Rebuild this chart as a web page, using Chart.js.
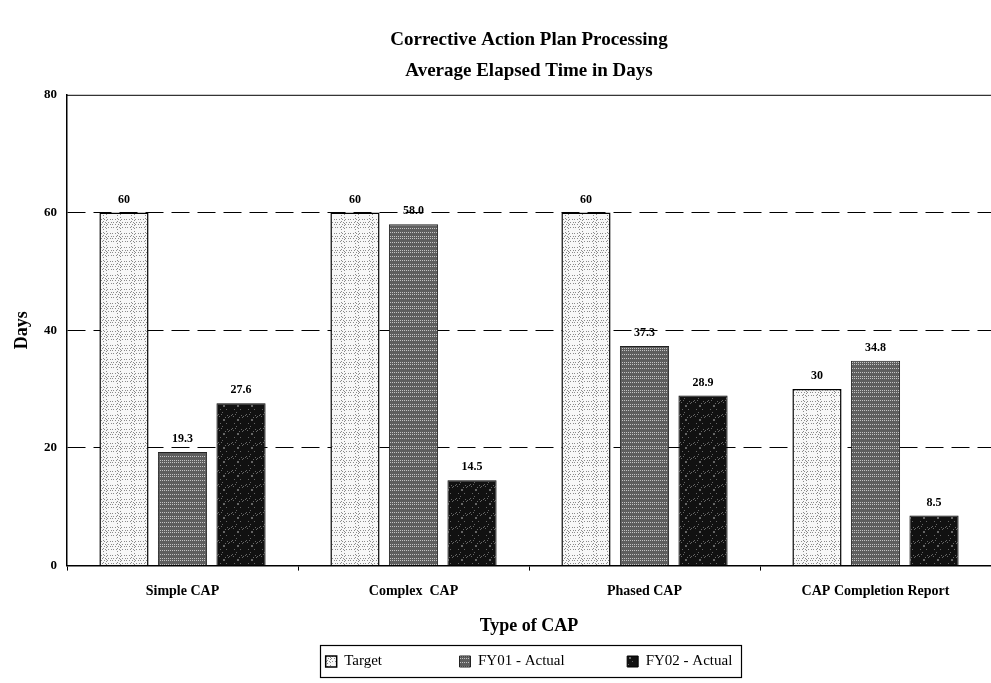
<!DOCTYPE html>
<html lang="en">
  <head>
    <meta charset="UTF-8" />
    <title>Corrective Action Plan Processing</title>
    <script src="https://cdn.jsdelivr.net/npm/chart.js"></script>
    <style>
      html, body {
          margin: 0;
          padding: 0;
          background: #fff;
      }
      .chart-wrapper {
          width: 991px;
          height: 683px;
      }
    </style>
  </head>
  <body>
    <div class="chart-wrapper">
      <canvas id="capChart"></canvas>
    </div>

    <script>
      var categories = ["Simple CAP", "Complex  CAP", "Phased CAP", "CAP Completion Report"];
      var targetDays = [60, 60, 60, 30];
      var fy01Days = [19.3, 58.0, 37.3, 34.8];
      var fy02Days = [27.6, 14.5, 28.9, 8.5];
      var targetText = ["60", "60", "60", "30"];
      var fy01Text = ["19.3", "58.0", "37.3", "34.8"];
      var fy02Text = ["27.6", "14.5", "28.9", "8.5"];
      var yTicks = [0, 20, 40, 60, 80];

      var serif = "'Liberation Serif', 'Times New Roman', serif";

      // little speckled textures, like the scanned print
      function makePattern(base, dot, every) {
        var c = document.createElement("canvas");
        c.width = 14;
        c.height = 14;
        var g = c.getContext("2d");
        g.fillStyle = base;
        g.fillRect(0, 0, 14, 14);
        g.fillStyle = dot;
        for (var i = 0; i < 14; i++) {
          for (var j = 0; j < 14; j++) {
            if ((i * i * 3 + j * 7 + i * j) % every === 0) g.fillRect(i, j, 1, 1);
          }
        }
        return g.createPattern(c, "repeat");
      }

      var targetFill = makePattern("#f7f7f7", "#8a8a8a", 9);
      var fy01Fill = makePattern("#5e5e5e", "#c4c4c4", 4);
      var fy02Fill = makePattern("#111111", "#666666", 13);

      // extra gap after each legend entry (em / en spaces)
      var legendGap = ["\u2003\u2003\u2003\u2003\u2002", "\u2003\u2003\u2003\u2002", ""];

      var valueLabels = {
        id: "valueLabels",
        afterDatasetsDraw: function (chart) {
          var ctx = chart.ctx;
          var texts = [targetText, fy01Text, fy02Text];
          ctx.save();
          ctx.font = "bold 12px " + serif;
          ctx.fillStyle = "#000";
          ctx.textAlign = "center";
          ctx.textBaseline = "bottom";
          chart.data.datasets.forEach(function (ds, di) {
            chart.getDatasetMeta(di).data.forEach(function (bar, i) {
              ctx.fillText(texts[di][i], bar.x, bar.y - 7);
            });
          });
          ctx.restore();
        },
      };

      var frameBits = {
        id: "frameBits",
        afterDraw: function (chart) {
          var ctx = chart.ctx;
          var a = chart.chartArea;
          ctx.save();
          ctx.strokeStyle = "#000";
          ctx.lineWidth = 1;
          ctx.beginPath();
          ctx.moveTo(a.left, a.top + 0.5);
          ctx.lineTo(a.right, a.top + 0.5);
          ctx.stroke();
          // box round the legend
          var boxes = chart.legend.legendHitBoxes;
          if (boxes && boxes.length) {
            var l = boxes[0].left - 6;
            var last = boxes[boxes.length - 1];
            var r = last.left + last.width + 8;
            var t = boxes[0].top - 9;
            var b = boxes[0].top + boxes[0].height + 8;
            ctx.lineWidth = 1.2;
            ctx.strokeRect(Math.round(l) + 0.5, Math.round(t) + 0.5, Math.round(r - l), Math.round(b - t));
          }
          ctx.restore();
        },
      };

      var data = {
        labels: categories,
        datasets: [
          {
            label: "Target",
            data: targetDays,
            backgroundColor: targetFill,
            borderColor: "#000",
            borderWidth: 1.5,
          },
          {
            label: "FY01 - Actual",
            data: fy01Days,
            backgroundColor: fy01Fill,
            borderColor: "#222",
            borderWidth: 1,
          },
          {
            label: "FY02 - Actual",
            data: fy02Days,
            backgroundColor: fy02Fill,
            borderColor: "#000",
            borderWidth: 1,
          },
        ],
      };

      var options = {
        responsive: true,
        maintainAspectRatio: false,
        animation: false,
        layout: {
          padding: { left: 0, right: 0, top: 0, bottom: 4 },
        },
        datasets: {
          bar: {
            categoryPercentage: 0.76,
            barPercentage: 0.84,
          },
        },
        scales: {
          x: {
            grid: {
              display: true,
              drawOnChartArea: false,
              offset: true,
              color: "#000",
              tickLength: 5,
            },
            border: { color: "#000", width: 1.5 },
            ticks: {
              color: "#000",
              font: { family: serif, size: 14, weight: "bold" },
              padding: 12,
            },
            title: {
              display: true,
              text: "Type of CAP",
              color: "#000",
              font: { family: serif, size: 18, weight: "bold" },
              padding: { top: 4, bottom: 7 },
            },
          },
          y: {
            min: 0,
            max: 80,
            afterBuildTicks: function (axis) {
              axis.ticks = yTicks.map(function (v) {
                return { value: v };
              });
            },
            afterFit: function (axis) {
              axis.width = 67;
            },
            grid: {
              color: function (c) {
                return c.tick && (c.tick.value === 0 || c.tick.value === 80) ? "rgba(0,0,0,0)" : "#000";
              },
              lineWidth: 1,
              drawTicks: false,
            },
            border: { color: "#000", width: 1.5, dash: [18, 8] },
            ticks: {
              color: "#000",
              font: { family: serif, size: 13, weight: "bold" },
              padding: 10,
            },
            title: {
              display: true,
              text: "Days",
              color: "#000",
              font: { family: serif, size: 18, weight: "bold" },
              padding: { top: 12, bottom: 8 },
            },
          },
        },
        plugins: {
          title: {
            display: true,
            fullSize: false,
            text: ["Corrective Action Plan Processing", "Average Elapsed Time in Days"],
            color: "#000",
            font: { family: serif, size: 19, weight: "bold", lineHeight: 1.6 },
            padding: { top: 25, bottom: 9 },
          },
          legend: {
            position: "bottom",
            fullSize: false,
            labels: {
              color: "#000",
              font: { family: serif, size: 15 },
              boxWidth: 11,
              boxHeight: 11,
              padding: 10,
              useBorderRadius: false,
              generateLabels: function (chart) {
                var items = Chart.defaults.plugins.legend.labels.generateLabels(chart);
                items.forEach(function (it, i) {
                  it.text = it.text + legendGap[i];
                });
                return items;
              },
            },
          },
          tooltip: { enabled: false },
        },
      };

      var capChart = new Chart(document.getElementById("capChart").getContext("2d"), {
        type: "bar",
        data: data,
        options: options,
        plugins: [valueLabels, frameBits],
      });
    </script>
  </body>
</html>
